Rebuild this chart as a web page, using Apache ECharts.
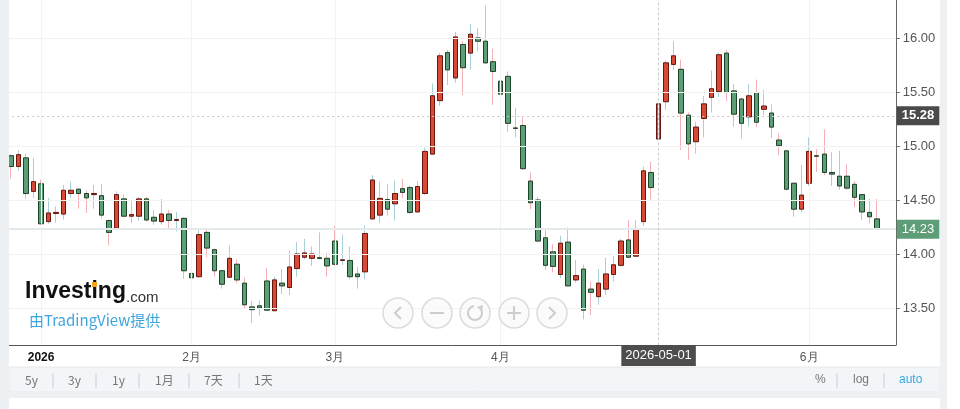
<!DOCTYPE html>
<html>
<head>
<meta charset="utf-8">
<script src="https://cdn.jsdelivr.net/npm/echarts@6/dist/echarts.min.js"></script>
<style>
html,body{margin:0;padding:0;background:#fff;}
#chart{width:960px;height:409px;}
</style>
</head>
<body>
<div id="chart"></div>
<script>
// 交易日（最后两天为空位）
var dates = [
  '2025-12-26','2025-12-29','2025-12-30','2025-12-31',
  '2026-01-02','2026-01-05','2026-01-06','2026-01-07','2026-01-08','2026-01-09','2026-01-12','2026-01-13','2026-01-14','2026-01-15','2026-01-16',
  '2026-01-20','2026-01-21','2026-01-22','2026-01-23','2026-01-26','2026-01-27','2026-01-28','2026-01-29','2026-01-30',
  '2026-02-02','2026-02-03','2026-02-04','2026-02-05','2026-02-06','2026-02-09','2026-02-10','2026-02-11','2026-02-12','2026-02-13',
  '2026-02-17','2026-02-18','2026-02-19','2026-02-20','2026-02-23','2026-02-24','2026-02-25','2026-02-26','2026-02-27',
  '2026-03-02','2026-03-03','2026-03-04','2026-03-05','2026-03-06','2026-03-09','2026-03-10','2026-03-11','2026-03-12','2026-03-13',
  '2026-03-16','2026-03-17','2026-03-18','2026-03-19','2026-03-20','2026-03-23','2026-03-24','2026-03-25','2026-03-26','2026-03-27','2026-03-30','2026-03-31',
  '2026-04-01','2026-04-02','2026-04-06','2026-04-07','2026-04-08','2026-04-09','2026-04-10','2026-04-13','2026-04-14','2026-04-15','2026-04-16','2026-04-17',
  '2026-04-20','2026-04-21','2026-04-22','2026-04-23','2026-04-24','2026-04-27','2026-04-28','2026-04-29','2026-04-30',
  '2026-05-01','2026-05-04','2026-05-05','2026-05-06','2026-05-07','2026-05-08','2026-05-11','2026-05-12','2026-05-13','2026-05-14','2026-05-15',
  '2026-05-18','2026-05-19','2026-05-20','2026-05-21','2026-05-22','2026-05-26','2026-05-27','2026-05-28','2026-05-29',
  '2026-06-01','2026-06-02','2026-06-03','2026-06-04','2026-06-05','2026-06-08','2026-06-09','2026-06-10','2026-06-11','2026-06-12',
  '2026-06-15','2026-06-16'
];
var openData = [
  14.91,14.81,14.89,14.58,14.65,14.30,14.375,14.37,14.56,14.60,14.56,14.55,14.54,14.31,14.24,14.51,14.35,14.35,14.51,14.34,
  14.30,14.37,14.31,14.33,13.82,13.79,14.20,14.04,13.845,13.785,13.905,13.73,13.51,13.52,13.75,13.475,13.73,13.69,13.865,13.97,
  13.96,13.966,13.96,14.12,13.94,13.94,13.815,13.835,14.325,14.36,14.505,14.465,14.605,14.615,14.39,14.56,14.925,15.42,15.865,15.63,
  15.94,15.86,16.00,15.97,15.78,15.60,15.645,15.167,15.19,14.675,14.50,14.15,14.02,13.81,14.11,13.76,13.86,13.675,13.605,13.675,
  13.81,13.895,14.13,13.98,14.30,14.755,15.065,15.41,15.755,15.71,15.285,15.04,15.255,15.45,15.505,15.86,15.51,15.435,15.27,15.495,
  15.34,15.305,15.055,14.955,14.655,14.415,14.655,14.91,14.925,14.755,14.72,14.72,14.645,14.55,14.385,14.325
];
var closeData = [
  14.81,14.92,14.56,14.67,14.28,14.38,14.385,14.59,14.59,14.56,14.52,14.56,14.36,14.20,14.55,14.35,14.365,14.51,14.315,14.305,
  14.37,14.31,14.32,13.845,13.78,14.18,14.055,13.845,13.72,13.96,13.76,13.53,13.485,13.50,13.48,13.76,13.705,13.88,14.00,14.01,
  14.00,13.958,13.89,13.905,13.946,13.79,13.79,14.19,14.685,14.515,14.415,14.56,14.57,14.385,14.625,14.95,15.465,15.835,15.705,16.01,
  15.725,16.035,15.97,15.77,15.69,15.48,15.21,15.163,14.79,14.475,14.12,13.895,13.885,14.10,13.705,13.80,13.48,13.645,13.73,13.815,
  13.90,14.12,13.97,14.235,14.77,14.615,15.39,15.77,15.835,15.305,15.02,15.175,15.39,15.53,15.845,15.495,15.295,15.21,15.465,15.22,
  15.37,15.175,15.005,14.60,14.415,14.545,14.95,14.905,14.755,14.74,14.63,14.61,14.525,14.39,14.345,14.23
];
var lowData = [
  14.70,14.77,14.51,14.52,14.27,14.28,14.29,14.32,14.52,14.42,14.38,14.42,14.33,14.08,14.23,14.34,14.29,14.31,14.30,14.27,
  14.27,14.24,14.21,13.77,13.68,13.78,13.97,13.79,13.68,13.78,13.73,13.50,13.36,13.43,13.475,13.47,13.63,13.62,13.79,13.95,
  13.89,13.95,13.79,13.89,13.90,13.765,13.68,13.765,14.32,14.29,14.355,14.31,14.515,14.37,14.38,14.55,14.92,15.37,15.565,15.585,
  15.47,15.705,15.875,15.76,15.38,15.215,15.13,15.08,14.78,14.415,14.11,13.85,13.83,13.775,13.70,13.735,13.395,13.435,13.53,13.62,
  13.745,13.88,13.96,13.97,14.26,14.505,14.895,15.335,15.705,14.965,14.87,14.93,15.08,15.31,15.455,15.415,15.18,15.07,15.18,15.175,
  15.285,15.075,14.915,14.59,14.345,14.385,14.63,14.76,14.73,14.63,14.595,14.595,14.43,14.315,14.285,14.225
];
var highData = [
  14.92,14.96,14.93,14.89,14.69,14.52,14.44,14.64,14.67,14.61,14.59,14.64,14.65,14.32,14.58,14.55,14.49,14.53,14.53,14.41,
  14.51,14.41,14.39,14.34,13.87,14.24,14.24,14.05,13.85,14.08,13.95,13.78,13.565,13.57,13.87,13.79,13.86,14.03,14.11,14.14,
  14.07,14.20,14.01,14.26,14.18,14.07,13.88,14.265,14.73,14.67,14.645,14.68,14.695,14.635,14.675,14.985,15.58,15.86,15.89,16.055,
  15.97,16.13,16.09,16.30,15.90,15.61,15.69,15.355,15.265,14.755,14.53,14.23,14.09,14.17,14.245,13.945,13.90,13.745,13.86,13.965,
  13.985,14.14,14.315,14.315,14.81,14.855,15.465,15.79,15.97,15.80,15.31,15.225,15.465,15.70,15.865,15.89,15.575,15.445,15.575,15.615,
  15.52,15.385,15.115,14.96,14.66,14.825,15.08,14.97,15.155,14.94,14.955,14.83,14.675,14.555,14.51,14.51
];
var yTicks = [13.5, 14.0, 14.5, 15.0, 15.5, 16.0];
var lastPrice = 14.23;
var crossPrice = 15.28;
var crossIndex = 86;

var upColor = '#d84a35', upBorder = '#6b160c', upWick = '#a9cfd9';
var downColor = '#5c9e76', downBorder = '#1c4428', downWick = '#f4b0b4';

var chart = echarts.init(document.getElementById('chart'));

var wickData = [], bodyData = [];
for (var i = 0; i < openData.length; i++) {
  wickData.push([openData[i], closeData[i], lowData[i], highData[i]]);
  bodyData.push([openData[i], closeData[i], Math.min(openData[i], closeData[i]), Math.max(openData[i], closeData[i])]);
}
var monthStarts = [];
for (var i = 1; i < dates.length; i++) {
  if (dates[i].slice(0, 7) !== dates[i - 1].slice(0, 7)) monthStarts.push(i);
}
function isMonthStart(idx) { return monthStarts.indexOf(idx) >= 0; }

var gridLines = [];
yTicks.forEach(function (v) { gridLines.push({ yAxis: v }); });
monthStarts.forEach(function (m) { gridLines.push({ xAxis: dates[m] }); });

var FONT = '"Liberation Sans", Arial, sans-serif';

// 底部工具条文字
var toolLeft = [['5y', 25], ['3y', 68], ['1y', 112], ['1月', 155], ['7天', 204], ['1天', 254]];
var toolSepLeft = [53, 96, 139, 189, 239];
var graphics = [
  { type: 'rect', z: 100, shape: { x: 0, y: 0, width: 9, height: 409 }, style: { fill: '#eef1f4' } },
  { type: 'rect', z: 100, shape: { x: 940, y: 0, width: 7, height: 409 }, style: { fill: '#eef1f4' } },
  { type: 'rect', z: 100, shape: { x: 0, y: 392, width: 947, height: 6 }, style: { fill: '#eef1f4' } },
  { type: 'rect', z: 99, shape: { x: 9, y: 367, width: 931, height: 25 }, style: { fill: '#f3f6f9', stroke: '#e4e8ec', lineWidth: 1 } },
  // logo
  { type: 'text', z: 60, style: { text: 'Investing', x: 25, y: 303, fontFamily: FONT, fontSize: 23, fontWeight: 'bold', fill: '#111', textVerticalAlign: 'bottom' } },
  { type: 'text', z: 60, style: { text: '.com', x: 126, y: 305, fontFamily: FONT, fontSize: 15, fill: '#333', textVerticalAlign: 'bottom' } },
  { type: 'rect', z: 61, shape: { x: 92, y: 282, width: 5, height: 5 }, style: { fill: '#f7a21b' } },
  { type: 'text', z: 60, style: { text: '由TradingView提供', x: 29, y: 320, fontFamily: '"Noto Sans CJK SC", "Noto Sans", sans-serif', fontSize: 15, fill: '#3ea5dc', textVerticalAlign: 'middle' } }
];
toolLeft.forEach(function (t) {
  graphics.push({ type: 'text', z: 101, style: { text: t[0], x: t[1], y: 380, fontFamily: '"Noto Sans CJK SC", ' + FONT, fontSize: 12, fill: '#777', textVerticalAlign: 'middle' } });
});
toolSepLeft.concat([837, 884]).forEach(function (x) {
  graphics.push({ type: 'line', z: 101, shape: { x1: x, y1: 373, x2: x, y2: 388 }, style: { stroke: '#c9ced3', lineWidth: 1 } });
});
graphics.push({ type: 'text', z: 101, style: { text: '%', x: 815, y: 380, fontFamily: FONT, fontSize: 12, fill: '#777', textVerticalAlign: 'middle' } });
graphics.push({ type: 'text', z: 101, style: { text: 'log', x: 853, y: 380, fontFamily: FONT, fontSize: 12, fill: '#777', textVerticalAlign: 'middle' } });
graphics.push({ type: 'text', z: 101, style: { text: 'auto', x: 899, y: 380, fontFamily: FONT, fontSize: 12, fill: '#38a7df', textVerticalAlign: 'middle' } });

// 缩放导航按钮
var navX = [398, 437, 475, 514, 552], navY = 313, iconC = '#cdcdcd';
navX.forEach(function (cx, k) {
  graphics.push({ type: 'circle', z: 50, shape: { cx: cx, cy: navY, r: 15 }, style: { fill: 'rgba(250,250,250,0.7)', stroke: '#dcdcdc', lineWidth: 1.5 } });
  var icon;
  if (k === 0) icon = { type: 'polyline', shape: { points: [[cx + 3, navY - 6], [cx - 3, navY], [cx + 3, navY + 6]] } };
  if (k === 1) icon = { type: 'line', shape: { x1: cx - 7, y1: navY, x2: cx + 7, y2: navY } };
  if (k === 2) icon = { type: 'arc', shape: { cx: cx, cy: navY, r: 7, startAngle: -Math.PI * 0.25, endAngle: Math.PI * 1.45, clockwise: true } };
  if (k === 3) icon = { type: 'polyline', shape: { points: [[cx - 7, navY], [cx + 7, navY], [cx, navY], [cx, navY - 7], [cx, navY + 7]] } };
  if (k === 4) icon = { type: 'polyline', shape: { points: [[cx - 3, navY - 6], [cx + 3, navY], [cx - 3, navY + 6]] } };
  icon.z = 51;
  icon.style = { stroke: iconC, lineWidth: 2, fill: null };
  graphics.push(icon);
  if (k === 2) graphics.push({ type: 'polygon', z: 51, shape: { points: [[cx + 2, navY - 6], [cx + 8, navY - 8], [cx + 7, navY - 2]] }, style: { fill: iconC } });
});

var option = {
  animation: false,
  backgroundColor: '#fff',
  grid: { left: 7.2, right: 64.2, top: 0, bottom: 64 },
  xAxis: {
    type: 'category',
    data: dates,
    boundaryGap: true,
    axisLine: { lineStyle: { color: '#555', width: 1 } },
    axisTick: {
      alignWithLabel: true, length: 4, lineStyle: { color: '#aaa' },
      interval: function (idx) { return isMonthStart(idx); }
    },
    axisLabel: {
      margin: 7, fontFamily: FONT, fontSize: 12, color: '#555',
      interval: function (idx) { return isMonthStart(idx) && idx !== crossIndex; },
      formatter: function (v) {
        var m = parseInt(v.slice(5, 7), 10);
        return m === 1 ? '{y|' + v.slice(0, 4) + '}' : m + '月';
      },
      rich: { y: { fontFamily: FONT, fontSize: 12, fontWeight: 'bold', color: '#111' } }
    },
    splitLine: { show: false },
    axisPointer: {
      show: true, status: 'show', value: crossIndex, type: 'line',
      lineStyle: { color: '#c8c8c8', type: [2, 3], width: 1 },
      label: {
        show: true, backgroundColor: '#4d4d4d', color: '#fff', fontFamily: FONT, fontSize: 13,
        padding: [4, 4, 4, 4], margin: 0, borderRadius: 0
      }
    }
  },
  yAxis: {
    type: 'value',
    position: 'right',
    min: 13.1574,
    max: 16.3519,
    scale: true,
    axisLine: { show: true, lineStyle: { color: '#666', width: 1 } },
    axisTick: { show: true, length: 4, lineStyle: { color: '#666' }, customValues: yTicks },
    axisLabel: {
      margin: 7, fontFamily: FONT, fontSize: 13, color: '#555', customValues: yTicks,
      formatter: function (v) { return v.toFixed(2); }
    },
    splitLine: { show: false },
    axisPointer: {
      show: true, status: 'show', value: crossPrice, type: 'line',
      lineStyle: { color: '#c8c8c8', type: [2, 3], width: 1 },
      label: {
        show: true, backgroundColor: '#4a4a4a', color: '#fff', fontFamily: FONT, fontSize: 13, fontWeight: 'bold',
        padding: [3, 5, 3, 5], margin: 1, borderRadius: 0,
        formatter: function (p) { return Number(p.value).toFixed(2); }
      }
    }
  },
  axisPointer: { triggerOn: 'none' },
  graphic: graphics,
  series: [
    {
      type: 'line', data: [], z: 1, silent: true,
      markLine: {
        silent: true, symbol: ['none', 'none'], animation: false,
        label: { show: false },
        lineStyle: { color: '#f2f2f2', width: 1, type: 'solid' },
        data: gridLines
      }
    },
    {
      type: 'line', data: [], z: 1, silent: true,
      markLine: {
        silent: true, symbol: ['none', 'none'], animation: false,
        lineStyle: { color: '#e4e9eb', width: 2, type: 'solid' },
        label: {
          show: true, position: 'end', distance: 1, backgroundColor: '#5d9d77', color: '#fff',
          fontFamily: FONT, fontSize: 13, padding: [3, 5, 3, 5],
          formatter: function () { return lastPrice.toFixed(2); }
        },
        data: [{ yAxis: lastPrice }]
      }
    },
    {
      name: 'wick', type: 'candlestick', data: wickData, barWidth: 5, z: 2, silent: true,
      itemStyle: { color: upWick, color0: downWick, borderColor: upWick, borderColor0: downWick, borderWidth: 1 }
    },
    {
      name: 'body', type: 'candlestick', data: bodyData, barWidth: 5, z: 3, silent: true,
      itemStyle: { color: upColor, color0: downColor, borderColor: upBorder, borderColor0: downBorder, borderWidth: 1 }
    }
  ]
};
chart.setOption(option);
</script>
</body>
</html>
